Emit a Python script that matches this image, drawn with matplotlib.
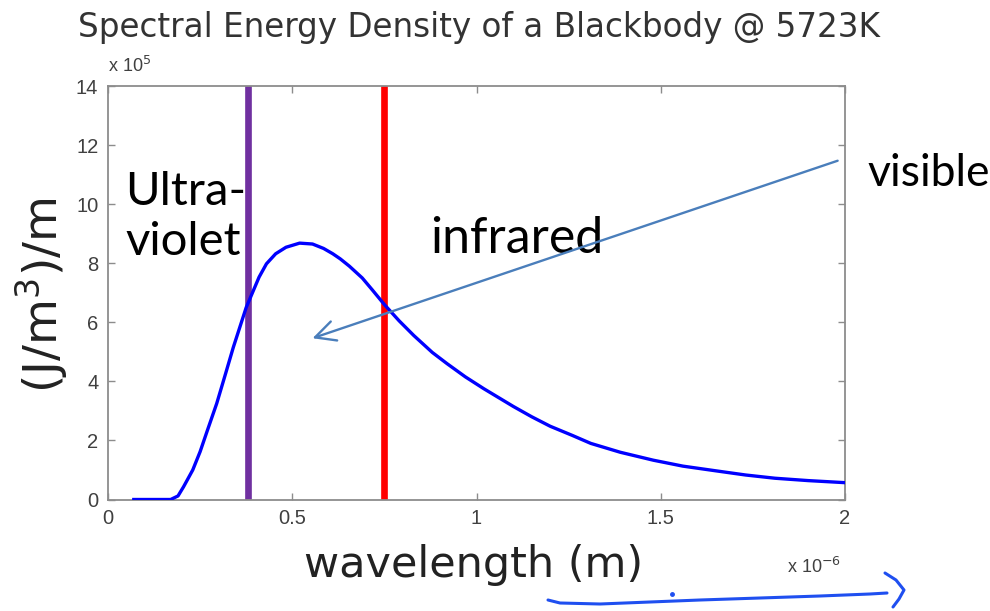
import matplotlib
matplotlib.use("Agg")
import matplotlib.pyplot as plt
from matplotlib.lines import Line2D

# curve: wavelength (x 1e-6 m) vs energy density (x 1e5)
wavelength = [0.07, 0.12, 0.17, 0.19, 0.205, 0.23, 0.25, 0.27, 0.295, 0.32,
              0.34, 0.375, 0.41, 0.43, 0.455, 0.483, 0.52, 0.555, 0.585,
              0.61, 0.63, 0.655, 0.69, 0.717, 0.75, 0.79, 0.83, 0.88, 0.92,
              0.97, 1.02, 1.06, 1.1, 1.15, 1.2, 1.26, 1.31, 1.39, 1.48,
              1.56, 1.65, 1.73, 1.81, 1.9, 2.0]
energy = [0.0, 0.0, 0.0, 0.12, 0.43, 1.0, 1.62, 2.35, 3.25, 4.3,
          5.15, 6.5, 7.53, 7.98, 8.32, 8.54, 8.68, 8.65, 8.5,
          8.32, 8.15, 7.9, 7.5, 7.1, 6.6, 6.05, 5.55, 4.98, 4.6,
          4.15, 3.75, 3.45, 3.15, 2.8, 2.48, 2.17, 1.9, 1.6, 1.33,
          1.13, 0.97, 0.83, 0.72, 0.64, 0.57]

uv_edge = 0.38
ir_edge = 0.75
xticks = [0, 0.5, 1, 1.5, 2]
xticklabels = ["0", "0.5", "1", "1.5", "2"]
yticks = [0, 2, 4, 6, 8, 10, 12, 14]

# arrow "visible" -> inside the visible band (data units)
arrow_tail = (1.98, 11.47)
arrow_head = (0.555, 5.46)

# hand-drawn stroke under the x label (figure pixels)
stroke_x = [548, 560, 600, 650, 700, 760, 820, 870, 887]
stroke_y = [600, 603, 604, 602, 600, 598, 596, 594, 593]
hook_x = [885, 896, 904, 899, 893]
hook_y = [573, 580, 590, 599, 607]

W, H = 990, 611
fig = plt.figure(figsize=(W / 100, H / 100), dpi=100)
ax = fig.add_axes([108 / W, 1 - 499.5 / H, 737 / W, 413.5 / H])

ax.plot(wavelength, energy, color="#0000ff", lw=2.4, zorder=3,
        solid_joinstyle="round")
ax.plot([uv_edge, uv_edge], [0, 14], color="#7030a0", lw=4.8, zorder=2)
ax.plot([ir_edge, ir_edge], [0.1, 14], color="#ff0000", lw=4.8, zorder=2)

ax.set_xlim(0, 2)
ax.set_ylim(0, 14)
ax.set_xticks(xticks)
ax.set_xticklabels(xticklabels)
ax.set_yticks(yticks)
for s in ax.spines.values():
    s.set_color("#8c8c8c")
    s.set_linewidth(1.3)
ax.tick_params(direction="in", length=5, width=1, color="#8c8c8c",
               top=True, right=True, labelsize=14.5, labelcolor="#404040", pad=7)
for lab in ax.get_xticklabels() + ax.get_yticklabels():
    lab.set_family("Liberation Sans")

# multipliers
ax.text(0.0, 1.035, r"x 10$^{5}$", transform=ax.transAxes, fontsize=13,
        family="Liberation Sans", color="#404040", ha="left", va="baseline")
ax.text(0.995, -0.178, r"x 10$^{-6}$", transform=ax.transAxes, fontsize=13,
        family="Liberation Sans", color="#404040", ha="right", va="baseline")

ax.set_xlabel("wavelength (m)", fontsize=31, color="#222222", va="baseline")
ax.xaxis.set_label_coords(0.4966, -0.1874)
ax.set_ylabel(r"(J/m$^3$)/m", fontsize=34, color="#222222", va="center")
ax.yaxis.set_label_coords(-0.0896, 0.4946)

fig.text(478.5 / W, 1 - 37 / H, "Spectral Energy Density of a Blackbody @ 5723K",
         fontsize=23.5, color="#333333", ha="center", va="baseline")

# slide annotations
ax.text(0.047, 8.28, "Ultra-\nviolet", fontsize=34, family="Lato",
        ha="left", va="baseline", linespacing=1.22, zorder=1)
ax.text(0.873, 8.35, "infrared", fontsize=36, family="Lato",
        ha="left", va="baseline")
fig.text(867 / W, 1 - 186 / H, "visible", fontsize=32, family="Lato",
         ha="left", va="baseline")
ax.annotate("", xy=arrow_head, xytext=arrow_tail, annotation_clip=False,
            arrowprops=dict(arrowstyle="->", color="#4a7ebb", lw=1.7,
                            mutation_scale=36, shrinkA=0, shrinkB=0))

pen = "#1f4ff0"
fig.add_artist(Line2D([x / W for x in stroke_x], [1 - y / H for y in stroke_y],
                      color=pen, lw=2.2, solid_capstyle="round"))
fig.add_artist(Line2D([x / W for x in hook_x], [1 - y / H for y in hook_y],
                      color=pen, lw=2.2, solid_capstyle="round"))
fig.add_artist(Line2D([672 / W], [1 - 594 / H], marker="o", markersize=2.5,
                      color=pen, lw=0))

fig.savefig("out.png", dpi=100)
